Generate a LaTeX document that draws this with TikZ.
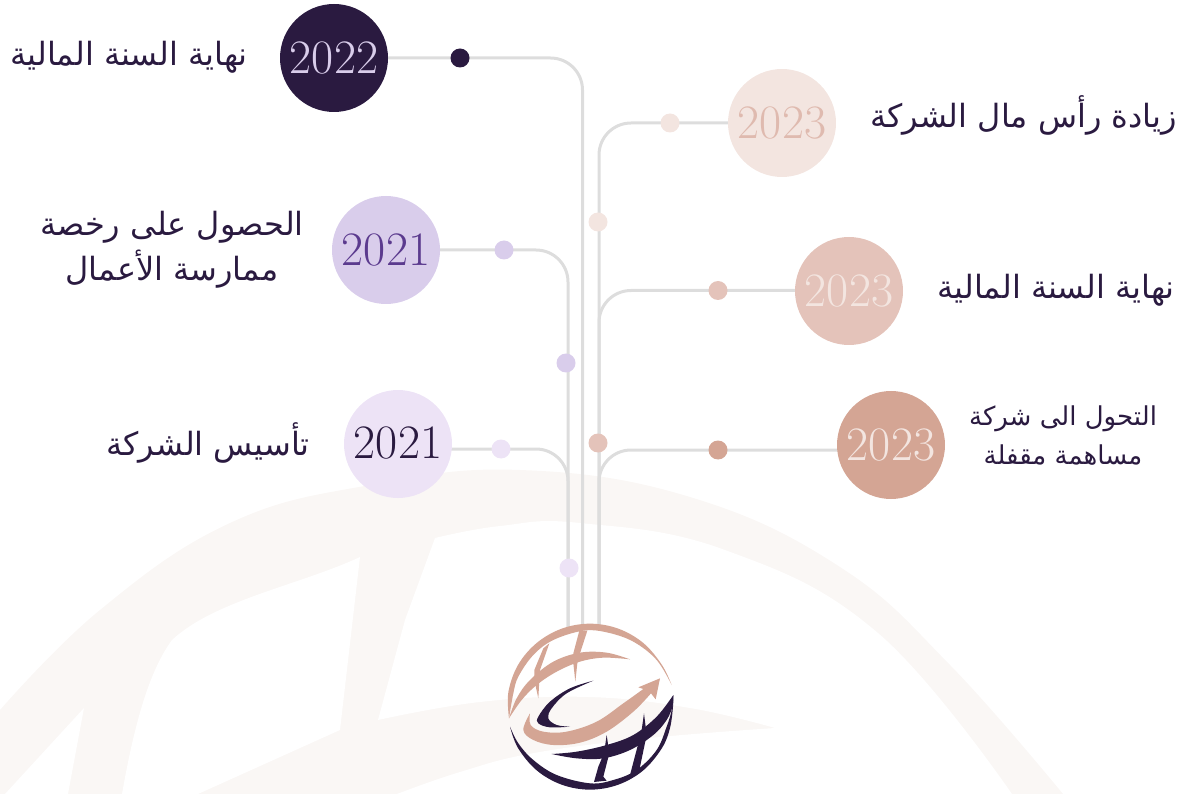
\documentclass[tikz,border=0pt]{standalone}
\usepackage{fontspec}
\usetikzlibrary{backgrounds}
\TeXXeTstate=1
\newfontfamily\arabicfont[Script=Arabic]{DejaVu Sans}
\definecolor{ink}{HTML}{2A1A40}
\definecolor{lila}{HTML}{D9CDEB}
\definecolor{pale}{HTML}{EDE3F6}
\definecolor{rosea}{HTML}{F3E5E0}
\definecolor{roseb}{HTML}{E4C3BA}
\definecolor{rosec}{HTML}{D4A594}
\definecolor{wm}{HTML}{FAF7F5}
\definecolor{wire}{HTML}{DDDDDD}
\definecolor{purp}{HTML}{5B3A8E}
\tikzset{
  yearc/.style={circle,minimum size=108pt,inner sep=0pt,font=\fontsize{48}{48}\selectfont},
  dotn/.style={circle,minimum size=19pt,inner sep=0pt},
  conn/.style={draw=wire,line width=3pt,rounded corners=32pt},
  artxt/.style={text=ink,align=center,inner sep=0pt,font=\arabicfont\fontsize{32}{45}\selectfont},
  arsmall/.style={text=ink,align=center,inner sep=0pt,font=\arabicfont\fontsize{26}{39}\selectfont},
}
\begin{document}
\begin{tikzpicture}[x=1pt,y=-1pt]
\useasboundingbox (0,0) rectangle (1192,794);
% year nodes
\node[yearc,fill=ink,text=lila] (c22) at (334,58) {\raisebox{-3pt}{2022}};
\node[yearc,fill=rosea,text=roseb!70!rosec] (c23a) at (782,123) {2023};
\node[yearc,fill=roseb,text=rosea] (c23b) at (849,291) {\raisebox{-2pt}{2023}};
\node[yearc,fill=rosec,text=rosea] (c23c) at (891,445) {2023};
\node[yearc,fill=lila,text=purp] (c21a) at (386,250) {2021};
\node[yearc,fill=pale,text=ink] (c21b) at (398,444) {\raisebox{2pt}{2021}};
% dots
\node[dotn,fill=ink] (d22) at (460,58) {};
\node[dotn,fill=rosea] (d23a) at (670,123) {};
\node[dotn,fill=rosea] (e23a) at (598,222) {};
\node[dotn,fill=roseb] (d23b) at (718,290.5) {};
\node[dotn,fill=roseb] (e23b) at (598,443) {};
\node[dotn,fill=rosec] (d23c) at (718,450) {};
\node[dotn,fill=lila] (d21a) at (504,250) {};
\node[dotn,fill=lila] (e21a) at (566,363) {};
\node[dotn,fill=pale] (d21b) at (501,449) {};
\node[dotn,fill=pale] (e21b) at (569,568) {};
% logo junctions
\coordinate (jl) at (568,630);
\coordinate (jm) at (582.5,630);
\coordinate (jr) at (599,630);
\begin{scope}[on background layer]
% watermark
\fill[wm] plot[smooth,tension=.7] coordinates {(0,710) (100,610) (230,523) (370,485) (520,470) (690,497) (840,567) (950,665) (1063,794)} -- (0,794) -- cycle;
\fill[white] plot[smooth,tension=.7] coordinates {(435,538) (500,526) (580,523) (725,550) (878,633) (1012,794)} -- plot[smooth,tension=.7] coordinates {(397,794) (460,772) (534,753) (650,738) (775,728)} -- cycle;
\fill[white] (397,794) -- (1012,794) -- (775,728) -- cycle;
\fill[white] plot[smooth,tension=.7] coordinates {(775,728) (690,708) (588,697) (480,702) (378,720)} -- (405,620) -- (435,538) -- (1012,794) -- cycle;
\fill[white] (172,640) .. controls (215,600) and (300,585) .. (360,557) -- (340,730) -- (198,794) -- (122,794) .. controls (135,720) and (150,670) .. (172,640) -- cycle;
\fill[white] (84,708) -- (68,794) -- (5,794) -- cycle;
\draw[conn] (c22 |- d22) -| (jm);
\draw[conn] (c23a |- d23a) -| (jr);
\draw[conn] (c23b |- d23b) -| (jr);
\draw[conn] (c23c |- d23c) -| (jr);
\draw[conn] (c21a |- d21a) -| (jl);
\draw[conn] (c21b |- d21b) -| (jl);
\end{scope}
% labels
\node[artxt,anchor=east] (t1) at (248,57) {\beginR نهاية السنة المالية\endR};
\node[artxt,anchor=east] (t2) at (1177,115) {\beginR زيادة رأس مال الشركة\endR};
\node[artxt] (t3) at (172,250) {\beginR الحصول على رخصة\endR\\\beginR ممارسة الأعمال\endR};
\node[artxt,anchor=east] (t4) at (1175,290) {\beginR نهاية السنة المالية\endR};
\node[artxt,anchor=east] (t5) at (310,443) {\beginR تأسيس الشركة\endR};
\node[arsmall] (t6) at (1063,436) {\beginR التحول الى شركة\endR\\\beginR مساهمة مقفلة\endR};
% logo
\begin{scope}[x=.33333pt,y=-.33333pt,shift={(490pt,-610pt)}]
\fill[rosec] plot[smooth,tension=.6] coordinates {(57,325) (55,247) (84,165) (140,99) (215,56) (300,41) (385,56) (460,99) (516,165) (545,225)}
 -- plot[smooth,tension=.6] coordinates {(545,225) (500,150) (430,95) (350,67) (280,62) (190,90) (130,135) (85,200) (70,250) (57,325)} -- cycle;
\fill[rosec] plot[smooth,tension=.6] coordinates {(420,148) (350,128) (270,128) (190,155) (120,210) (80,265) (57,325)}
 -- plot[smooth,tension=.6] coordinates {(57,325) (95,270) (140,225) (200,185) (270,155) (340,143) (420,148)} -- cycle;
\fill[rosec] (268,62) -- (292,62) -- (270,130) -- (262,160) -- (256,215) -- (250,160) -- (250,130) -- cycle;
\fill[rosec] (160,115) -- (178,100) -- (150,180) -- (148,210) -- (145,265) -- (133,210) -- (133,180) -- cycle;
\fill[ink] plot[smooth,tension=.6] coordinates {(60,350) (84,414) (140,481) (215,524) (300,539) (385,524) (460,481) (516,414) (540,354) (549,290) (550,255)}
 -- plot[smooth,tension=.6] coordinates {(550,255) (545,300) (530,350) (500,420) (440,480) (370,510) (300,520) (200,495) (130,450) (85,400) (60,350)} -- cycle;
\fill[ink] plot[smooth,tension=.6] coordinates {(550,255) (500,320) (430,375) (350,405) (260,425) (185,432)}
 -- plot[smooth,tension=.6] coordinates {(185,432) (260,445) (340,445) (420,420) (490,375) (530,330) (548,290)} -- cycle;
\fill[ink] (350,375) -- (358,430) -- (340,500) -- (350,512) -- (312,516) -- (325,470) -- (342,430) -- cycle;
\fill[ink] (462,310) -- (470,375) -- (447,485) -- (420,495) -- (445,400) -- (455,360) -- cycle;
\fill[rosec] plot[smooth,tension=.6] coordinates {(120,310) (122,345) (160,365) (230,365) (320,335) (400,280) (460,237)}
 -- (445,232) -- (510,205) -- (497,268) -- (483,250)
 -- plot[smooth,tension=.6] coordinates {(483,250) (430,305) (350,365) (270,398) (190,405) (130,390) (100,360) (120,310)} -- cycle;
\fill[ink] plot[smooth,tension=.6] coordinates {(310,212) (240,235) (180,275) (145,320) (145,340) (180,352) (240,350)}
 -- plot[smooth,tension=.6] coordinates {(240,350) (200,345) (175,325) (185,295) (230,250) (310,212)} -- cycle;
\end{scope}
\end{tikzpicture}
\end{document}
